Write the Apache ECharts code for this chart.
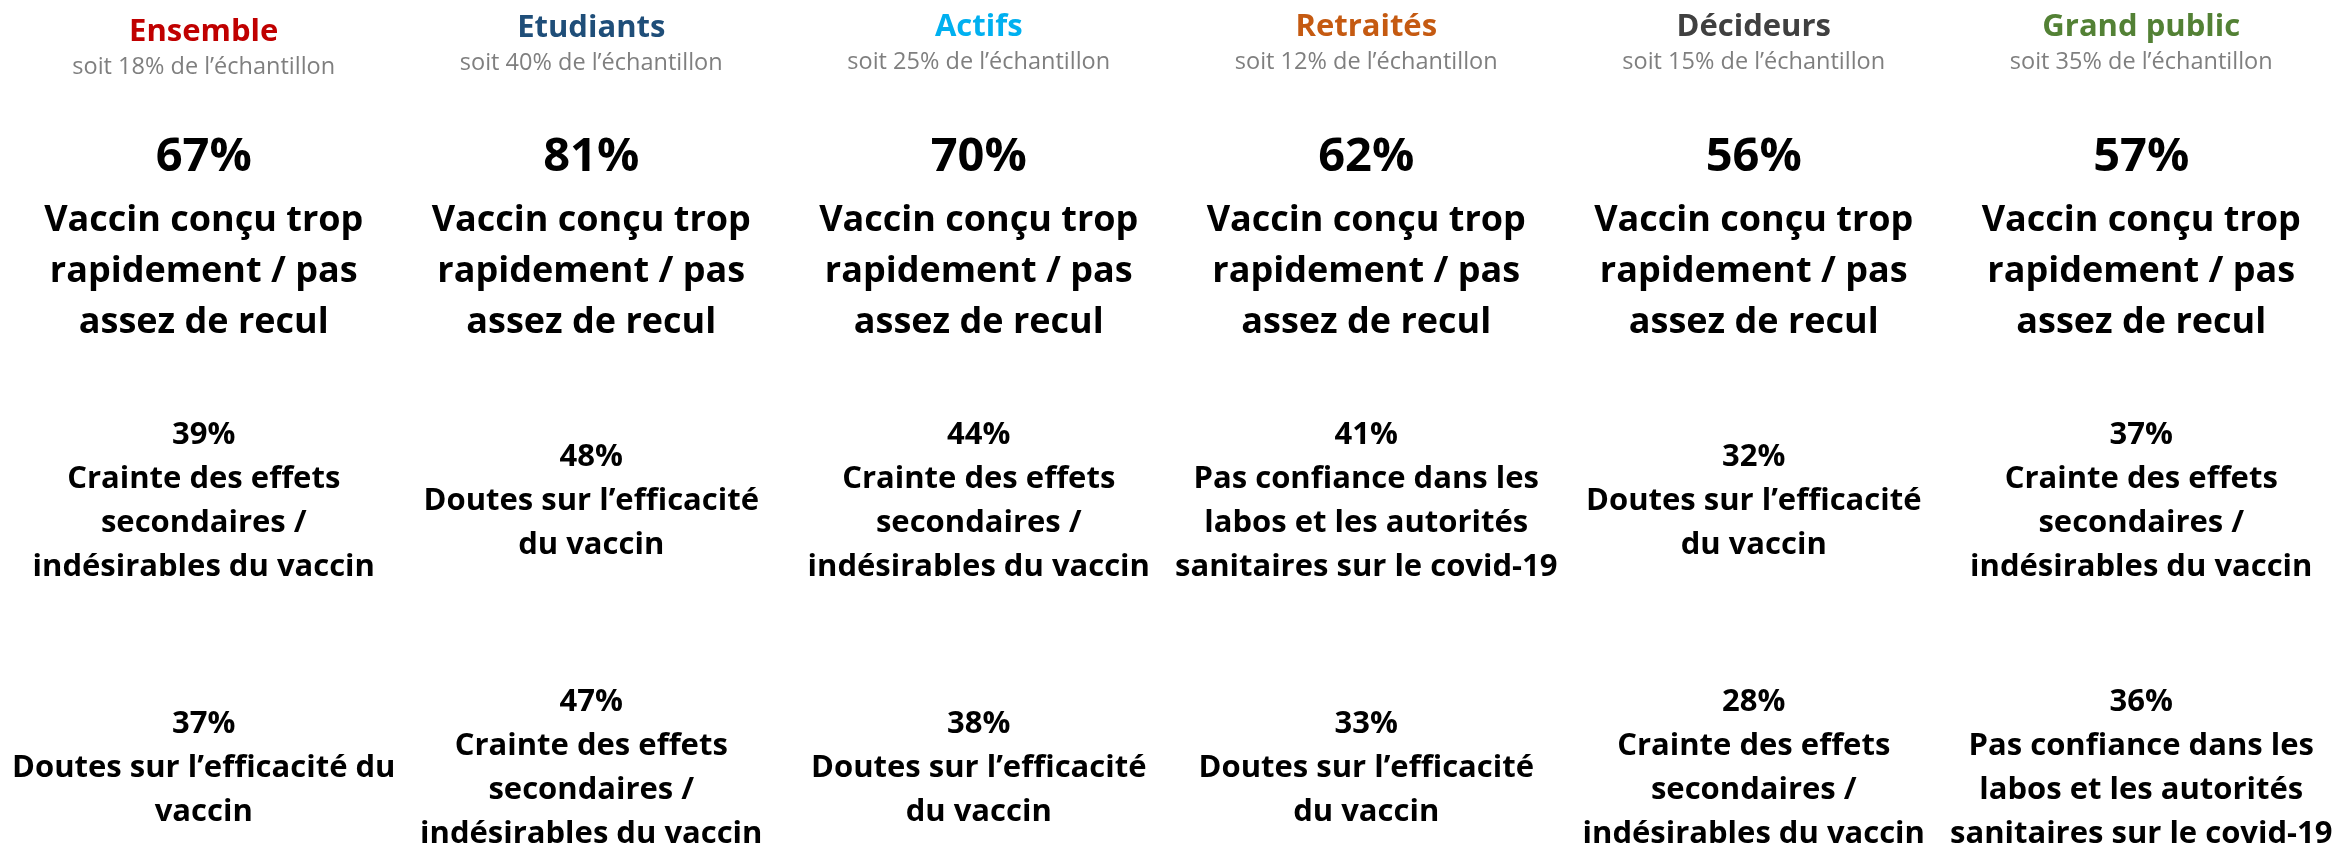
<!DOCTYPE html>
<html><head><meta charset="utf-8">
<script src="https://cdn.jsdelivr.net/npm/echarts@6/dist/echarts.min.js"></script>
<style>html,body{margin:0;padding:0;background:#fff}#c{width:2335px;height:851px}</style>
</head><body><div id="c"></div>
<script>
// ---- data ----
const groups = ['Ensemble', 'Etudiants', 'Actifs', 'Retraités', 'Décideurs', 'Grand public'];
const sampleShare = [18, 40, 25, 12, 15, 35];
const reason1Pct = [67, 81, 70, 62, 56, 57];
const reason1Label = [
  'Vaccin conçu trop\nrapidement / pas\nassez de recul',
  'Vaccin conçu trop\nrapidement / pas\nassez de recul',
  'Vaccin conçu trop\nrapidement / pas\nassez de recul',
  'Vaccin conçu trop\nrapidement / pas\nassez de recul',
  'Vaccin conçu trop\nrapidement / pas\nassez de recul',
  'Vaccin conçu trop\nrapidement / pas\nassez de recul'
];
const reason2Pct = [39, 48, 44, 41, 32, 37];
const reason2Label = [
  'Crainte des effets\nsecondaires /\nindésirables du vaccin',
  'Doutes sur l’efficacité\ndu vaccin',
  'Crainte des effets\nsecondaires /\nindésirables du vaccin',
  'Pas confiance dans les\nlabos et les autorités\nsanitaires sur le covid-19',
  'Doutes sur l’efficacité\ndu vaccin',
  'Crainte des effets\nsecondaires /\nindésirables du vaccin'
];
const reason3Pct = [37, 47, 38, 33, 28, 36];
const reason3Label = [
  'Doutes sur l’efficacité du\nvaccin',
  'Crainte des effets\nsecondaires /\nindésirables du vaccin',
  'Doutes sur l’efficacité\ndu vaccin',
  'Doutes sur l’efficacité\ndu vaccin',
  'Crainte des effets\nsecondaires /\nindésirables du vaccin',
  'Pas confiance dans les\nlabos et les autorités\nsanitaires sur le covid-19'
];
const ranks = [1, 2, 3];

// ---- style / layout ----
const groupColors = ['#C00000', '#1F4E79', '#00B0F0', '#C55A11', '#404040', '#538135'];
const headerNudge = [5, 1, 0, 0, 0, 0];
const FONT = '"Open Sans", "Liberation Sans", sans-serif';
const HEADER_ROW = 0.288;
const rankStyles = {
  1: { pctSize: 47, pctLine: 75, textSize: 36, textLine: 51 },
  2: { pctSize: 31, pctLine: 44, textSize: 31, textLine: 44 },
  3: { pctSize: 31, pctLine: 44, textSize: 31, textLine: 44 }
};
const pctByRank = { 1: reason1Pct, 2: reason2Pct, 3: reason3Pct };
const labelByRank = { 1: reason1Label, 2: reason2Label, 3: reason3Label };

const headerData = groups.map((g, i) => [i, HEADER_ROW]);
const reasonData = [];
ranks.forEach(r => groups.forEach((g, i) => reasonData.push([i, r, pctByRank[r][i]])));

function txt(x, y, text, font, fill) {
  return { type: 'text', x: x, y: y, silent: true,
    style: { text: text, font: font, fill: fill, align: 'center', verticalAlign: 'middle' } };
}

function renderHeader(params, api) {
  const i = api.value(0);
  const p = api.coord([i, api.value(1)]);
  const n = headerNudge[i];
  return { type: 'group', children: [
    txt(p[0], p[1] - 16.5 + n, groups[i], 'bold 31px ' + FONT, groupColors[i]),
    txt(p[0], p[1] + 18 + n, 'soit ' + sampleShare[i] + '% de l’échantillon', '23.5px ' + FONT, '#7F7F7F')
  ]};
}

function renderReason(params, api) {
  const i = api.value(0), r = api.value(1), pct = api.value(2);
  const p = api.coord([i, r]);
  const st = rankStyles[r];
  const lines = labelByRank[r][i].split('\n');
  const total = st.pctLine + lines.length * st.textLine;
  const top = p[1] - total / 2;
  const children = [txt(p[0], top + st.pctLine / 2, pct + '%', 'bold ' + st.pctSize + 'px ' + FONT, '#000')];
  lines.forEach((ln, k) => {
    children.push(txt(p[0], top + st.pctLine + st.textLine * (k + 0.5), ln, 'bold ' + st.textSize + 'px ' + FONT, '#000'));
  });
  return { type: 'group', children: children };
}

const chart = echarts.init(document.getElementById('c'));
chart.setOption({
  animation: false,
  backgroundColor: '#fff',
  grid: { left: 10, right: 0, top: 0, bottom: 0 },
  xAxis: { type: 'category', data: groups, show: false },
  yAxis: { type: 'value', min: 0.1236, max: 3.311, inverse: true, show: false },
  series: [
    { type: 'custom', name: 'header', data: headerData, renderItem: renderHeader, silent: true },
    { type: 'custom', name: 'raisons', data: reasonData, renderItem: renderReason, silent: true }
  ]
});
</script>
</body></html>
